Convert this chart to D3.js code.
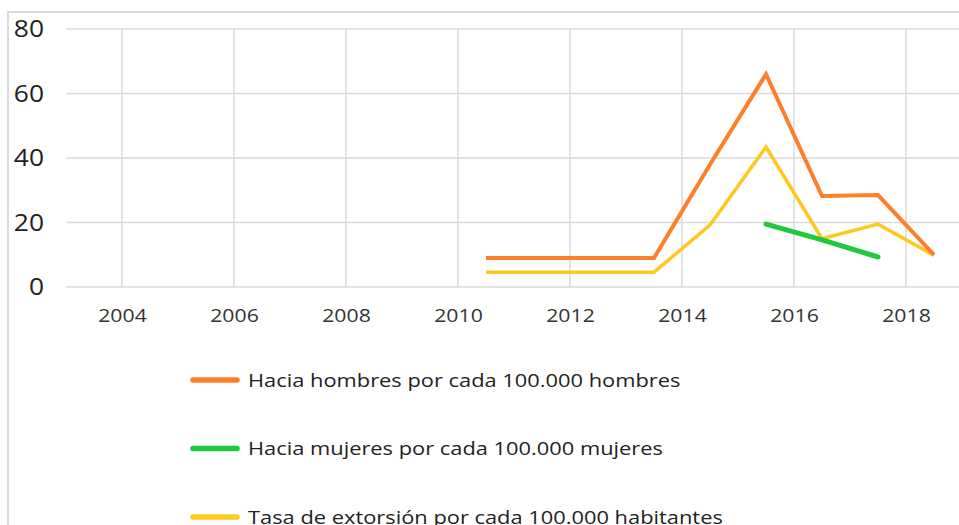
<!DOCTYPE html>
<html>
<head>
<meta charset="utf-8">
<script src="https://cdn.jsdelivr.net/npm/d3@7"></script>
<style>
  body { margin: 0; background: #fff; }
  svg { display: block; font-family: "Open Sans", "Noto Sans", sans-serif; }
</style>
</head>
<body>
<div id="chart"></div>
<script>
// Data
const years = [2010.5, 2011.5, 2012.5, 2013.5, 2014.5, 2015.5, 2016.5, 2017.5, 2018.5];
const hombres = [9, 9, 9, 9, 38, 66, 28.2, 28.5, 10];
const mujeres = [null, null, null, null, null, 19.5, 14.6, 9.3, null];
const extorsion = [4.6, 4.6, 4.6, 4.6, 19.2, 43.4, 15, 19.5, 9.8];
const xTicks = [2004, 2006, 2008, 2010, 2012, 2014, 2016, 2018];
const yTicks = [0, 20, 40, 60, 80];

const seriesNames = [
    "Hacia hombres por cada 100.000 hombres",
    "Hacia mujeres por cada 100.000 mujeres",
    "Tasa de extorsión por cada 100.000 habitantes"
];
const seriesColors = ["#fd7f2a", "#1ec93c", "#ffc820"];
const seriesWidths = [4, 5, 3.5];

const width = 959;
const height = 525;
const margin = { top: 29, right: 0, bottom: 238, left: 66 };

const svg = d3.select("#chart")
    .append("svg")
    .attr("width", width)
    .attr("height", height);

// outer frame
svg.append("path")
    .attr("d", `M8,${height} L8,12 L${width},12`)
    .attr("fill", "none")
    .attr("stroke", "#dcdcdc")
    .attr("stroke-width", 2);

const xScale = d3.scaleLinear()
    .domain([2003, 2019])
    .range([margin.left, 962]);

const yScale = d3.scaleLinear()
    .domain([0, 80])
    .range([287, margin.top]);

// grid
svg.append("g")
    .selectAll("line")
    .data(yTicks)
    .join("line")
    .attr("x1", margin.left)
    .attr("x2", width)
    .attr("y1", d => yScale(d))
    .attr("y2", d => yScale(d))
    .attr("stroke", "#dadada")
    .attr("stroke-width", 1.5);

svg.append("g")
    .selectAll("line")
    .data(xTicks)
    .join("line")
    .attr("x1", d => xScale(d))
    .attr("x2", d => xScale(d))
    .attr("y1", yScale(80))
    .attr("y2", yScale(0))
    .attr("stroke", "#dadada")
    .attr("stroke-width", 1.5);

// axes
const yAxis = d3.axisLeft(yScale).tickValues(yTicks).tickSize(0).tickPadding(0);
svg.append("g")
    .attr("transform", "translate(44,0)")
    .call(yAxis)
    .call(g => g.select(".domain").remove())
    .selectAll("text")
    .style("font-size", "24px")
    .style("font-family", "'Open Sans', sans-serif")
    .attr("transform", "scale(1.1,1)")
    .attr("fill", "#222");

const xAxis = d3.axisBottom(xScale).tickValues(xTicks).tickFormat(d3.format("d")).tickSize(0).tickPadding(0);
svg.append("g")
    .attr("transform", "translate(0,309)")
    .call(xAxis)
    .call(g => g.select(".domain").remove())
    .selectAll("text")
    .style("font-size", "18px")
    .style("font-family", "'Open Sans', sans-serif")
    .attr("transform", "scale(1.18,1)")
    .attr("fill", "#333");

// lines
const allSeries = [hombres, mujeres, extorsion];
const line = d3.line()
    .defined(d => d[1] != null)
    .x(d => xScale(d[0]))
    .y(d => yScale(d[1]));

[2, 0, 1].forEach(i => {
    svg.append("path")
        .datum(years.map((y, j) => [y, allSeries[i][j]]))
        .attr("fill", "none")
        .attr("stroke", seriesColors[i])
        .attr("stroke-width", seriesWidths[i])
        .attr("stroke-linejoin", "miter")
        .attr("stroke-linecap", i === 1 ? "round" : "butt")
        .attr("d", line);
});

// legend
const legend = svg.append("g")
    .selectAll("g")
    .data(seriesNames)
    .join("g")
    .attr("transform", (d, i) => `translate(192, ${380 + i * 68.5})`);

legend.append("line")
    .attr("x1", 1)
    .attr("x2", 45)
    .attr("stroke", (d, i) => seriesColors[i])
    .attr("stroke-width", 5.5)
    .attr("stroke-linecap", "round");

legend.append("text")
    .attr("transform", "translate(56,0) scale(1.15,1)")
    .attr("dy", "0.35em")
    .style("font-size", "19px")
    .attr("fill", "#222")
    .text(d => d);
</script>
</body>
</html>
